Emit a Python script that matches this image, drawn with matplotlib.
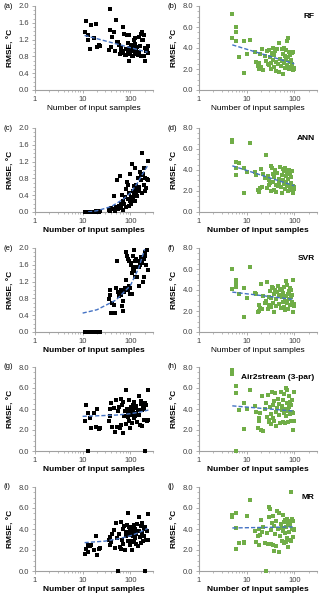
import matplotlib
matplotlib.use('Agg')
import matplotlib.pyplot as plt
from matplotlib.ticker import AutoMinorLocator, LogLocator, NullFormatter, FixedLocator

plt.rcParams['font.family'] = ['Liberation Sans', 'DejaVu Sans']

# numero de muestras (paneles izquierdos, mismas estaciones)
left_x = [11, 12, 13, 13, 14, 15, 17, 19, 20, 22, 23,
          35, 37, 38, 40, 42, 45, 47, 50, 52, 55,
          58, 60, 63, 65, 68, 70, 72, 75, 78, 80,
          82, 85, 88, 90, 92, 95, 98, 100, 103, 105,
          108, 110, 113, 115, 118, 120, 123, 125, 128, 130,
          135, 140, 145, 150, 155, 160, 165, 170, 175, 180,
          185, 190, 195, 200, 205, 210, 220, 230, 240]

y_a = [1.39, 1.64, 1.31, 1.18, 0.98, 1.55, 1.25, 1.58, 1.02, 1.06, 1.05,
       0.96, 1.92, 1.43, 1.02, 1.26, 1.38, 0.94, 1.66, 1.14, 1.14,
       1.06, 0.86, 0.95, 1.00, 0.88, 1.50, 0.92, 1.34, 0.84, 0.98,
       0.84, 1.30, 1.12, 0.90, 1.32, 0.70, 1.00, 0.85, 1.02, 0.92,
       0.80, 1.08, 0.94, 0.82, 1.00, 1.20, 0.88, 1.25, 1.10, 0.86,
       0.95, 1.02, 0.84, 1.27, 0.90, 1.05, 1.34, 0.82, 1.38, 1.20,
       1.18, 1.30, 0.82, 0.70, 1.00, 0.92, 0.98, 1.05, 0.88]

y_c = [0.0, 0.0, 0.0, 0.0, 0.01, 0.0, 0.0, 0.02, 0.0, 0.01, 0.02,
       0.05, 0.08, 0.02, 0.10, 0.06, 0.38, 0.03, 0.12, 0.75, 0.08,
       0.15, 0.85, 0.20, 0.10, 0.40, 0.05, 0.25, 0.18, 0.35, 0.55,
       0.12, 0.72, 0.30, 0.65, 0.15, 0.45, 0.25, 0.90, 0.20, 0.35,
       0.28, 1.15, 0.50, 0.30, 0.62, 0.40, 0.55, 1.05, 0.25, 0.65,
       0.45, 0.38, 0.80, 0.60, 0.50, 0.95, 0.88, 0.75, 1.40, 0.45,
       0.90, 0.65, 1.05, 0.50, 0.80, 0.58, 0.78, 1.22, 0.75]

y_e = [0.0, 0.0, 0.0, 0.0, 0.0, 0.0, 0.0, 0.0, 0.0, 0.0, 0.0,
       0.78, 0.88, 1.00, 0.45, 0.70, 0.65, 0.45, 1.05, 1.70, 0.95,
       0.85, 0.92, 0.88, 1.00, 0.62, 0.50, 0.75, 0.95, 1.05, 1.25,
       1.90, 1.82, 1.75, 1.00, 1.70, 1.10, 1.05, 0.90, 1.60, 1.65,
       1.40, 0.90, 1.50, 1.80, 1.45, 1.95, 1.70, 1.55, 1.30, 1.75,
       1.75, 1.30, 1.70, 1.55, 1.10, 1.60, 1.75, 1.78, 1.65, 1.70,
       1.20, 1.30, 1.75, 1.82, 1.90, 1.60, 1.95, 1.48, 1.48]

y_g = [2.9, 4.4, 0.0, 3.6, 3.1, 2.2, 3.6, 2.3, 4.0, 2.1, 2.2,
       2.9, 3.3, 4.0, 4.6, 2.3, 4.1, 1.8, 4.9, 2.3, 3.8,
       4.2, 2.2, 5.0, 2.5, 4.4, 1.7, 4.7, 3.3, 3.8, 5.8,
       2.6, 4.0, 3.2, 3.6, 2.9, 4.9, 3.5, 2.2, 4.2, 3.8,
       3.4, 2.7, 4.4, 3.9, 3.1, 4.7, 3.6, 3.3, 4.1, 3.5,
       4.3, 2.8, 3.9, 5.2, 3.4, 2.5, 4.5, 4.8, 3.9, 2.4,
       4.3, 4.0, 3.0, 0.0, 4.6, 4.4, 2.9, 3.0, 5.8]

y_i = [1.6, 2.1, 2.5, 1.8, 2.4, 2.5, 2.0, 3.3, 1.5, 2.1, 2.2,
       3.0, 2.5, 3.2, 2.8, 3.5, 3.9, 2.2, 4.6, 3.1, 0.0,
       3.5, 2.3, 4.7, 2.1, 3.0, 4.0, 2.6, 4.3, 2.0, 3.7,
       3.3, 4.4, 5.5, 2.9, 3.4, 4.2, 2.5, 3.8, 2.9, 3.9,
       2.0, 3.6, 4.2, 3.3, 2.8, 4.4, 3.7, 3.1, 4.0, 2.6,
       3.5, 4.5, 2.4, 3.8, 5.1, 3.2, 2.7, 4.3, 3.6, 4.6,
       2.9, 4.0, 3.3, 0.0, 4.2, 3.0, 3.8, 3.0, 5.4]

# paneles derechos
right_x = [5, 5, 6, 6, 6, 7, 9, 9, 10, 12,
           15, 16, 17, 18, 18, 19, 20, 21, 22, 24,
           25, 27, 28, 29, 30, 31, 32, 33, 34, 35,
           36, 37, 38, 40, 41, 42, 44, 45, 47, 48,
           50, 52, 54, 55, 57, 58, 60, 62, 64, 65,
           67, 68, 70, 72, 74, 75, 77, 78, 80, 82,
           84, 85, 88, 90, 92, 95, 98, 100]

y_b = [7.2, 5.0, 6.0, 5.5, 4.7, 3.1, 4.7, 1.65, 3.4, 4.8,
       3.6, 2.7, 2.3, 2.0, 2.6, 3.4, 2.2, 3.9, 1.9, 3.2,
       2.8, 3.7, 2.5, 3.8, 2.4, 3.1, 2.6, 2.0, 3.5, 4.0,
       2.9, 3.3, 2.2, 3.7, 2.7, 1.8, 3.9, 2.5, 1.7, 4.5,
       3.0, 2.3, 3.9, 2.8, 3.4, 1.5, 4.0, 2.6, 3.2, 2.1,
       3.8, 2.9, 4.7, 2.4, 5.0, 3.1, 2.0, 3.6, 2.7, 3.3,
       2.2, 2.9, 3.5, 2.5, 1.9, 3.6, 2.1, 2.0]

y_d = [6.9, 6.7, 4.8, 4.2, 3.5, 4.7, 4.2, 1.8, 3.8, 6.6,
       3.8, 3.5, 2.1, 1.9, 2.0, 2.3, 4.1, 2.4, 3.6, 3.2,
       5.4, 2.3, 3.4, 2.6, 3.0, 2.8, 4.4, 2.0, 4.2, 3.6,
       2.9, 2.1, 3.3, 4.0, 2.6, 1.9, 3.7, 2.5, 3.1, 2.8,
       4.3, 2.4, 3.5, 1.8, 3.0, 4.1, 2.7, 3.9, 2.2, 4.2,
       2.9, 3.4, 2.6, 3.8, 2.0, 3.1, 4.0, 2.5, 3.6, 2.3,
       3.3, 2.8, 3.9, 2.1, 2.5, 1.8, 2.4, 2.2]

y_f = [6.0, 4.1, 5.0, 4.7, 4.3, 3.6, 4.2, 1.4, 3.2, 6.2,
       3.7, 3.6, 1.9, 2.6, 2.0, 2.3, 4.6, 2.2, 3.4, 2.8,
       3.0, 4.8, 2.2, 3.3, 2.6, 3.9, 2.4, 3.2, 4.3, 4.2,
       2.8, 3.6, 1.9, 4.0, 3.1, 2.5, 3.8, 4.4, 2.7, 3.5,
       4.0, 2.3, 3.3, 4.1, 2.9, 3.7, 2.4, 4.3, 3.0, 2.1,
       4.9, 3.4, 2.8, 4.5, 3.6, 2.2, 3.9, 3.1, 4.2, 2.6,
       3.3, 4.0, 2.9, 3.5, 1.9, 5.0, 2.7, 2.5]

y_h = [7.7, 7.3, 6.2, 5.5, 0.0, 3.9, 4.6, 2.1, 4.0, 5.8,
       4.3, 3.7, 2.2, 3.1, 2.9, 3.6, 2.0, 5.2, 1.9, 4.0,
       4.6, 3.2, 5.3, 2.8, 3.0, 4.2, 2.6, 3.5, 5.6, 4.4,
       3.1, 4.8, 2.9, 5.5, 3.7, 2.4, 4.1, 5.0, 3.4, 4.5,
       2.7, 5.6, 3.9, 4.3, 2.8, 4.9, 3.6, 5.4, 4.0, 2.7,
       6.0, 3.3, 4.6, 5.8, 3.8, 2.8, 5.2, 4.2, 3.5, 4.7,
       2.9, 4.4, 3.7, 4.9, 2.0, 3.6, 5.6, 2.9]

y_j = [5.1, 5.3, 5.5, 4.1, 2.1, 2.7, 2.8, 2.7, 5.2, 6.8,
       3.8, 2.8, 3.3, 2.5, 4.0, 3.4, 4.9, 3.7, 4.2, 2.7,
       0.0, 3.6, 2.6, 5.1, 6.1, 5.9, 3.9, 2.6, 4.6, 5.2,
       2.5, 4.3, 1.9, 3.5, 4.8, 2.4, 5.7, 4.0, 1.8, 5.5,
       3.3, 4.5, 2.9, 4.1, 3.8, 5.3, 2.7, 4.7, 3.6, 4.9,
       2.8, 4.2, 3.1, 5.0, 4.6, 2.3, 3.7, 4.8, 3.0, 4.4,
       7.5, 2.9, 4.0, 5.0, 3.2, 4.8, 3.9, 4.0]

# lineas de tendencia
trend_a = ([11, 230], [1.3, 0.9])
trend_c = ([13, 20, 40, 70, 100, 140, 180, 230], [0.0, 0.03, 0.13, 0.3, 0.45, 0.68, 0.9, 1.1])
trend_e = ([10, 20, 50, 100, 150, 200], [0.45, 0.53, 0.76, 1.1, 1.52, 1.97])
trend_g = ([10, 50, 100, 150, 240], [3.3, 3.42, 3.55, 3.68, 3.9])
trend_i = ([11, 30, 60, 100, 150, 230], [2.7, 2.85, 3.1, 3.35, 3.65, 4.05])
trend_b = ([5, 100], [4.3, 2.5])
trend_d = ([5, 100], [4.4, 2.5])
trend_f = ([5, 100], [3.8, 3.1])
trend_h = ([5, 100], [4.3, 3.8])
trend_j = ([5, 100], [4.1, 4.2])

paneles = [
    ('(a)', '', left_x, y_a, trend_a, 2.0, False),
    ('(b)', 'RF', right_x, y_b, trend_b, 8.0, False),
    ('(c)', '', left_x, y_c, trend_c, 2.0, True),
    ('(d)', 'ANN', right_x, y_d, trend_d, 8.0, True),
    ('(e)', '', left_x, y_e, trend_e, 2.0, True),
    ('(f)', 'SVR', right_x, y_f, trend_f, 8.0, False),
    ('(g)', '', left_x, y_g, trend_g, 8.0, True),
    ('(h)', 'Air2stream (3-par)', right_x, y_h, trend_h, 8.0, True),
    ('(i)', '', left_x, y_i, trend_i, 8.0, True),
    ('(j)', 'MR', right_x, y_j, trend_j, 8.0, True),
]

W, H = 325, 600
fig = plt.figure(figsize=(W / 100, H / 100), dpi=100)
gris = '#a0a0a0'
ceros = [90, 212, 332, 451, 571]

for k, (letra, modelo, xs, ys, trend, ymax, negrita) in enumerate(paneles):
    fila, col = k // 2, k % 2
    x0 = 35 if col == 0 else 199
    ax = fig.add_axes([x0 / W, 1 - ceros[fila] / H, 118 / W, 84 / H])
    color = 'black' if col == 0 else '#70AD47'
    ax.scatter(xs, ys, marker='s', s=9, color=color, linewidths=0, zorder=3, clip_on=False)
    ax.plot(trend[0], trend[1], color='#4472C4', linestyle=(0, (3, 1.5)), linewidth=1.0, zorder=4)

    ax.set_xscale('log')
    ax.set_xlim(1, 300)
    ax.set_ylim(0, ymax)
    ax.xaxis.set_major_locator(FixedLocator([1, 10, 100]))
    ax.xaxis.set_major_formatter(plt.FuncFormatter(lambda v, p: '%d' % v))
    ax.xaxis.set_minor_locator(LogLocator(base=10, subs=range(2, 10)))
    ax.xaxis.set_minor_formatter(NullFormatter())
    paso = 0.4 if ymax == 2.0 else 2.0
    ax.set_yticks([paso * i for i in range(6 if ymax == 2.0 else 5)])
    ax.yaxis.set_major_formatter(plt.FuncFormatter(lambda v, p: '%.1f' % v))
    ax.yaxis.set_minor_locator(AutoMinorLocator(4))

    for lado in ['top', 'right']:
        ax.spines[lado].set_visible(False)
    for lado in ['left', 'bottom']:
        ax.spines[lado].set_color(gris)
        ax.spines[lado].set_linewidth(0.8)
    ax.tick_params(which='major', direction='out', length=2.5, width=0.6, color=gris,
                   labelsize=5.5, pad=1.5, labelcolor='#404040')
    ax.tick_params(which='minor', direction='out', length=1.5, width=0.5, color=gris)

    ax.set_xlabel('Number of input samples', fontsize=6,
                  fontweight='bold' if negrita else 'normal', labelpad=2)
    ax.set_ylabel('RMSE, °C', fontsize=6, fontweight='bold', labelpad=3)

    fig.text((x0 - 32) / W, 1 - (ceros[fila] - 84) / H, letra, fontsize=5.5,
             ha='left', va='center')
    if modelo:
        ax.text(0.98, 0.88, modelo, transform=ax.transAxes, fontsize=6,
                fontweight='bold', ha='right', va='center')

fig.savefig('out.png', dpi=100)
